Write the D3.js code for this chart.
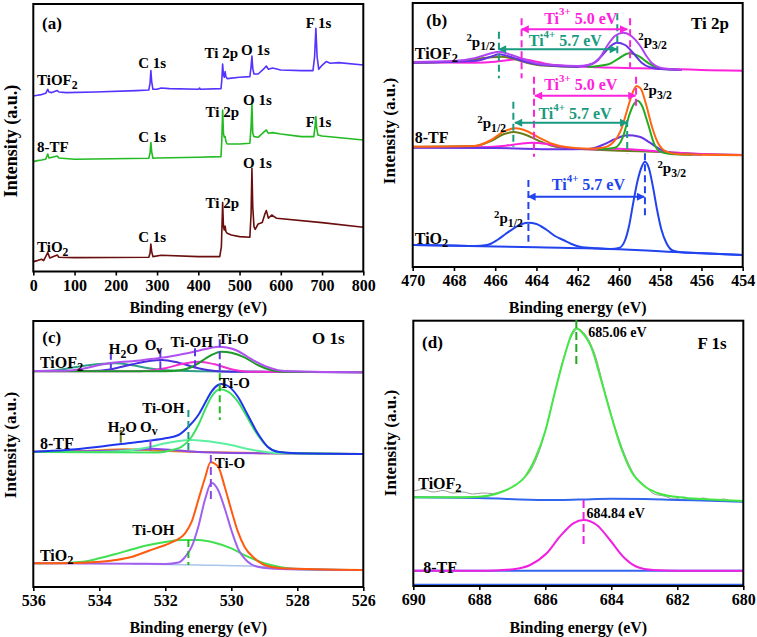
<!DOCTYPE html>
<html><head><meta charset="utf-8">
<script src="https://cdn.jsdelivr.net/npm/d3@7"></script>
<style>
body{margin:0;background:#fff}
svg{display:block}
text{font-family:"Liberation Serif","Times New Roman",serif;font-weight:bold}
</style>
</head><body><script>
// ---------------- DATA ----------------
const surveyTicks=[0,100,200,300,400,500,600,700,800];
const ti2pTicks=[470,468,466,464,462,460,458,456,454];
const o1sTicks=[536,534,532,530,528,526];
const f1sTicks=[690,688,686,684,682,680];

// (a) survey spectra [binding energy eV, intensity a.u.]
const surveyTiOF2=[[0,167.3],[10,168],[20,168.7],[30,170],[35,174],[38,171.3],[45,170.7],[58,172.7],[62,171.3],[80,170.7],[150,171.3],[250,172.7],[280,173.3],[283,180],[285,192.7],[287,181.7],[290,174],[300,174],[310,175.3],[330,174.7],[400,174],[403,175.3],[405,174],[455,174.7],[457,183.3],[459,199.3],[461,188.3],[463,186],[465,191.7],[467,186.7],[470,184.7],[500,186],[525,186.7],[528,196.7],[530,207.3],[532,195],[535,189.3],[545,189.3],[560,195],[565,197.3],[570,194],[580,195.3],[600,193.3],[650,192.7],[678,192.7],[682,206.7],[685,235],[688,206.7],[692,194],[700,198],[710,201.7],[720,200],[740,200.7],[800,198.3]];
const survey8TF=[[0,101.7],[10,102.7],[20,103.3],[30,104],[35,109.3],[38,105.3],[58,107.3],[62,105.3],[100,104],[280,105],[283,110],[285,120.7],[287,111.7],[290,105],[300,105.3],[400,106],[455,106.7],[457,123.3],[459,153.3],[461,130],[463,126],[465,126.7],[467,121.7],[470,119.3],[500,119.3],[525,120],[528,136.7],[530,160],[532,130],[535,126.7],[545,126],[560,131.7],[565,133.3],[570,130],[580,130.7],[600,129.3],[650,126.7],[680,126.7],[683,136.7],[685,146.7],[687,135],[690,128.3],[700,127.3],[800,123.3]];
const surveyTiO2=[[0,1.7],[10,2.7],[20,4],[25,2.7],[35,10.7],[40,5.3],[58,8.3],[62,6],[100,5.7],[280,6],[283,10],[285,19.3],[287,11.7],[290,6.7],[310,8],[400,6.7],[452,6.7],[456,16.7],[459,60.7],[461,36.7],[463,33.3],[465,37.3],[467,31.7],[470,30],[480,28.3],[500,26.7],[525,26],[528,50],[530,95],[532,56.7],[535,36.7],[538,34],[545,39.3],[555,40.7],[562,50],[565,52.7],[570,45],[578,48.3],[590,45],[700,40.7],[800,36]];

// (b) Ti 2p
const tiTiO2Env=[[470,22],[468,21.5],[467,21],[466.4,22],[465.9,27],[465.5,33],[465.1,38.7],[464.7,43],[464.4,44.3],[464,43],[463.5,37],[463.1,31],[462.7,27],[462.3,23],[461.9,20.3],[461.1,18.7],[460.4,18],[460,19],[459.7,27],[459.5,42],[459.3,65],[459.1,86],[458.9,100],[458.74,105.3],[458.55,99],[458.35,80],[458.15,57],[457.95,38],[457.7,24],[457.4,16.5],[457,14.7],[456,13.7],[454,12]];
const tiTiO2Bg=[[470,22],[464,19.7],[460,17.7],[458,15.7],[457,14.7],[454,12]];
const tiTF8Orange=[[470,120.3],[467,121],[466.2,127],[465.6,135.3],[465,138.7],[464.4,135.3],[463.8,128.7],[463.2,123],[462.5,119.7],[461.5,118.3],[460.8,119.3],[460.3,124.3],[459.9,137],[459.6,157],[459.35,173.7],[459.15,181],[458.95,178.7],[458.7,163.7],[458.4,140.3],[458.1,123.7],[457.7,115.3],[457.2,113],[456,112.3],[454,111.7]];
const tiTF8Green=[[461,117.7],[460.2,119.3],[459.8,130.3],[459.5,152],[459.3,162],[459.1,166.3],[458.9,162],[458.6,143.7],[458.3,123.7],[458,115.3],[457.5,113],[456.5,112.3]];
const tiTF8Violet=[[470,119.3],[466,119],[463,117.7],[461.5,118],[460.8,122],[460.2,127.7],[459.6,131.7],[459,130.3],[458.5,124.3],[458,117.7],[457.5,114.3],[457,113],[456,112.3]];
const tiTF8Olive=[[470,120.3],[467,121],[466.2,126],[465.6,132.7],[465.1,135],[464.5,132],[463.9,126.3],[463.2,121],[462.5,118.7],[461.5,117.7],[460,116.3],[458,115],[456,113],[454,112]];
const tiTF8Magenta=[[470,119.7],[467,119.7],[465.5,121.3],[464.8,123.3],[464.2,124.3],[463.5,123],[462.8,120.3],[462,118.3],[461,117.7],[460,118.3],[458,115.3],[457.5,114.7],[456,113],[454,112]];
const tiOF2Env=[[470,205],[468,206],[467,208.7],[466.2,213.7],[465.8,215.3],[465.2,212],[464.5,207],[464,203.7],[463,201.7],[462,201],[461.5,202],[461,207],[460.6,220.3],[460.2,231],[459.8,234.3],[459.4,231],[459,222],[458.7,212],[458.4,203.7],[458,199.3],[457.5,197.7],[457,197]];
const tiOF2Violet=[[470,204.3],[467,206],[466.2,210.3],[465.8,212.7],[465.2,209.7],[464.5,205],[463.5,201.7],[462,200.3],[461.3,203],[460.8,212],[460.4,221],[460.1,224.3],[459.7,222],[459.3,213.7],[458.9,204.3],[458.5,199.7],[458,198],[457,197]];
const tiOF2Green=[[461.5,200],[460.5,202.7],[460,208.7],[459.5,213.7],[459,210.3],[458.6,204.3],[458.2,199.7],[457.8,198],[457,197]];
const tiOF2Olive=[[470,204.3],[467.5,206.3],[466.8,208.3],[466.2,209.7],[465.7,210.3],[465.2,208.7],[464.6,205],[464,202.3],[463,200.7],[462,200]];
const tiOF2Magenta=[[470,204.7],[467,204.3],[466,205.3],[465.3,207],[464.8,208],[464.2,206.3],[463.5,203],[462.5,201],[461,199.7],[459,198.7],[457,197.7],[456,197],[454,196.3]];

// (c) O 1s
const oOF2Env=[[536,216],[535,216.3],[534.5,218.3],[534,222],[533.6,224.3],[533,225.7],[532.5,227.7],[532,229.7],[531.5,232.7],[531,236.3],[530.6,239.3],[530.4,240.3],[530.1,239.3],[529.8,236],[529.5,230],[529.2,224.3],[528.8,218.7],[528.4,216],[527,215],[526,214.7]];
const oOF2TiO=[[536,215.7],[532,215.7],[531.5,217],[531.2,220],[531,223.7],[530.8,228],[530.6,232],[530.3,235.3],[530,234.3],[529.6,229.7],[529.2,222],[528.8,217],[528.4,215.3],[526,214.7]];
const oOF2TiOH=[[536,215.7],[533,215.7],[532.5,216.3],[532,218.7],[531.5,223],[531,225.3],[530.5,222.7],[530,217.7],[529.5,215.3],[526,214.7]];
const oOF2Ov=[[536,216],[534.5,216],[534,216.3],[533.5,218.7],[533,222.7],[532.5,226],[532.1,227],[531.6,224.3],[531,218.7],[530.5,216],[530,215.3],[526,214.7]];
const oOF2H2O=[[536,216],[535.5,216.3],[535,218.3],[534.5,221],[534,223],[533.5,223.7],[533,221.7],[532.5,218.7],[532,216.7],[531,215.7],[529,215.2]];
const oTF8Env=[[536,135.3],[535,137],[534,140.3],[533,144.3],[532.5,146.3],[532,148.7],[531.6,152],[531.3,160.3],[531,172],[530.8,183.7],[530.6,195.3],[530.4,202],[530.3,203],[530.1,201],[529.8,190.3],[529.5,172],[529.2,153.7],[528.9,140.3],[528.6,135.3],[528,133.7],[526,133]];
const oTF8TiO=[[536,135],[532.2,134.5],[531.8,137],[531.5,140.3],[531.2,150.3],[531,162],[530.8,177],[530.6,190.3],[530.34,197.7],[530.1,195.3],[529.8,185.3],[529.5,168.7],[529.2,152],[528.9,140.3],[528.6,135.3],[528,133.7],[526,133]];
const oTF8TiOH=[[536,135],[534,135],[533,137],[532.5,139.7],[532,143.7],[531.6,146],[531.2,147],[530.6,145.3],[530,142],[529.5,138],[529,135.3],[528.5,133.7],[526,133]];
const oTF8Ov=[[536,135.3],[534,136],[533,137],[532.4,138.3],[531.8,137],[531,135],[530,134],[526,133]];
const oTF8H2O=[[536,135.3],[534.5,136],[533.2,137.7],[532.2,136.3],[531,135],[529,133.8],[526,133]];
const oTiO2Env=[[536,23.7],[534.5,24.3],[533.5,27],[533,30.3],[532.5,36.3],[532,42],[531.7,46.3],[531.4,53.7],[531.2,65.3],[531,87],[530.8,108.7],[530.63,124.7],[530.4,120.3],[530.2,100.3],[530,77],[529.8,55.3],[529.6,40.3],[529.3,28.7],[529,22],[528.5,18.7],[526,17]];
const oTiO2TiO=[[536,23.7],[533,23.3],[532,23],[531.6,24.5],[531.4,30],[531.2,40.3],[531,60.3],[530.8,87],[530.6,104.3],[530.4,97],[530.2,78.7],[530,57],[529.8,38.7],[529.5,25.3],[529.2,20.3],[528.5,18],[526,17]];
const oTiO2TiOH=[[536,23.7],[535.5,23.7],[534.5,25.3],[534,28.7],[533.5,33],[533,37.7],[532.5,42],[532,45],[531.5,47],[531,47],[530.5,44.3],[530,38.7],[529.5,30.3],[529,23.7],[528.5,19.7],[528,17.7],[526,17]];
const oTiO2Bg=[[533,23],[531,22],[529,20.3],[528,18.5],[526,17]];

// (d) F 1s
const fOF2Fit=[[690,88.7],[689,88.7],[688,89.3],[687.5,92],[687,99],[686.6,110],[686.3,128],[686,155],[685.7,195],[685.4,232],[685.2,252],[685.06,257.7],[684.9,254],[684.6,238],[684.3,205],[684,170],[683.7,138],[683.4,115],[683,100],[682.6,93],[682,89],[681,86.5],[680,85]];
const fOF2Raw=[[690,95],[689.7,96.5],[689.4,94],[689.1,95.5],[688.8,93],[688.5,94],[688.2,92],[687.9,93],[687.6,92.5],[687.3,95],[687,99],[686.7,106],[686.4,118],[686.1,143],[685.8,182],[685.5,222],[685.2,250],[685,257],[684.8,252],[684.5,232],[684.2,195],[683.9,160],[683.6,132],[683.3,111],[683,101],[682.7,92],[682.4,90],[682.1,87],[681.8,89],[681.5,86],[681.2,88],[680.9,85],[680.6,87],[680.3,84.5],[680,85]];
const fOF2Bg=[[690,88.7],[688,88],[686,86],[685,86.5],[684,87.3],[683,87],[682,86],[681,85.3],[680,84.3]];
const fTF8Fit=[[690,15.3],[688,15.3],[687.4,15.8],[686.97,16.7],[686.46,21],[685.96,32.7],[685.56,49.3],[685.15,62.7],[684.84,66],[684.44,61],[684.04,46],[683.64,29.3],[683.23,19.3],[682.73,16],[682,15.3],[680,15.3]];
const fTF8Bg=[[690,15.3],[680,15.3]];
const fTiO2Bg=[[690,1.3],[680,1.3]];

// ---------------- DRAWING ----------------
const FONT='"Liberation Serif","Times New Roman",serif';
const svg=d3.select("body").append("svg").attr("width",757).attr("height",637);
const defs=svg.append("defs");

const layout={
  a:{l:33.3,r:363.3,t:4,b:271.5},
  b:{l:412.7,r:742.7,t:3,b:267},
  c:{l:33.3,r:363.3,t:321,b:587},
  d:{l:413.3,r:743.3,t:320.7,b:586}
};

function panel(key,xd,yd,ticks){
  const L=layout[key];
  const x=d3.scaleLinear().domain(xd).range([L.l,L.r]);
  const y=d3.scaleLinear().domain(yd).range([L.b,L.t]);
  defs.append("clipPath").attr("id","clip-"+key).append("rect")
    .attr("x",L.l).attr("y",L.t).attr("width",L.r-L.l).attr("height",L.b-L.t);
  const g=svg.append("g");
  const plot=g.append("g").attr("clip-path",`url(#clip-${key})`);
  const ax=g.append("g").attr("transform",`translate(0,${L.b})`)
    .call(d3.axisBottom(x).tickValues(ticks).tickSize(4).tickPadding(4).tickFormat(d3.format("d")));
  ax.select(".domain").remove();
  ax.selectAll(".tick line").attr("stroke","#000").attr("stroke-width",1.6);
  ax.selectAll(".tick text").attr("font-size",16).attr("font-family",FONT).attr("font-weight","bold").attr("fill","#000");
  return {key,x,y,g,plot,L};
}
function frame(P){
  const L=P.L;
  P.g.append("rect").attr("x",L.l).attr("y",L.t).attr("width",L.r-L.l).attr("height",L.b-L.t)
    .attr("fill","none").attr("stroke","#000").attr("stroke-width",2);
}
function curve(P,data,color,w=2,interp=d3.curveMonotoneX){
  P.plot.append("path").datum(data)
    .attr("d",d3.line().x(d=>P.x(d[0])).y(d=>P.y(d[1])).curve(interp))
    .attr("fill","none").attr("stroke",color).attr("stroke-width",w)
    .attr("stroke-linejoin","round").attr("stroke-linecap","round");
}
function vdash(P,e,i0,i1,color,dash="7,4",w=2){
  P.g.append("line").attr("x1",P.x(e)).attr("x2",P.x(e)).attr("y1",P.y(i0)).attr("y2",P.y(i1))
    .attr("stroke",color).attr("stroke-width",w).attr("stroke-dasharray",dash);
}
const markerIds={};
function marker(color){
  if(markerIds[color]) return markerIds[color];
  const id="ah"+Object.keys(markerIds).length;
  defs.append("marker").attr("id",id).attr("viewBox","0 0 10 10").attr("refX",9).attr("refY",5)
    .attr("markerWidth",10).attr("markerHeight",8).attr("markerUnits","userSpaceOnUse")
    .attr("orient","auto-start-reverse")
    .append("path").attr("d","M0,0L10,5L0,10z").attr("fill",color);
  markerIds[color]=id; return id;
}
function arrow(P,e0,e1,i,color){
  const id=marker(color);
  P.g.append("line").attr("x1",P.x(e0)).attr("x2",P.x(e1)).attr("y1",P.y(i)).attr("y2",P.y(i))
    .attr("stroke",color).attr("stroke-width",2)
    .attr("marker-start",`url(#${id})`).attr("marker-end",`url(#${id})`);
}
// rich text: parts are strings or [string, mode]
function rich(g,px,py,parts,{size=16,color="#000",anchor="start"}={}){
  const t=g.append("text").attr("x",px).attr("y",py).attr("fill",color).attr("font-size",size)
    .attr("text-anchor",anchor).attr("dominant-baseline","central");
  let cur=0;
  parts.forEach(p=>{
    const [s,m]=typeof p==="string"?[p,"n"]:p;
    let off=0,fs=size;
    if(m==="sub"){off=size*0.3;fs=size*0.78;}
    if(m==="sup"){off=-size*0.38;fs=size*0.68;}
    if(m==="pre"){off=-size*0.3;fs=size*0.72;}
    t.append("tspan").attr("dy",off-cur).attr("font-size",fs).text(s);
    cur=off;
  });
  return t;
}
function label(P,e,i,parts,opt){return rich(P.g,P.x(e),P.y(i),parts,opt);}

const tiof2=["TiOF",["2","sub"]], tio2=["TiO",["2","sub"]], tf8=["8-TF"];
const p12=[["2","pre"],["p","n"],["1/2","sub"]], p32=[["2","pre"],["p","n"],["3/2","sub"]];
const h2o=["H",["2","sub"],["O","n"]], ov=["O",["v","sub"]];

// ---- (a) ----
const A=panel("a",[0,800],[-8.2,259.3],surveyTicks);
curve(A,surveyTiOF2,"#5533ff",1.6,d3.curveLinear);
curve(A,survey8TF,"#22bb22",1.6,d3.curveLinear);
curve(A,surveyTiO2,"#6a0e0e",1.6,d3.curveLinear);
frame(A);
[["F 1s",691.4,240.3],["C 1s",288.3,200.3],["Ti 2p",455.9,210.3],["O 1s",538.4,213.3],
 ["O 1s",543.3,163.3],["Ti 2p",458.3,151.3],["C 1s",288.3,126.3],["F 1s",691.4,141.3],
 ["O 1s",543.3,100.3],["Ti 2p",458.3,60.3],["C 1s",288.3,26.3]]
 .forEach(d=>label(A,d[1],d[2],[d[0]],{size:15,anchor:"middle"}));
label(A,9,183.3,tiof2,{size:15});
label(A,9,116.3,tf8,{size:15});
label(A,9,16.3,tio2,{size:15});
rich(A.g,52,23,["(a)"],{size:17,anchor:"middle"});

// ---- (b) ----
const B=panel("b",[470,454],[0,264],ti2pTicks);
const MAG="#ff22dd", TEAL="#1a9a80";
curve(B,tiTiO2Bg,"#2244ee");
curve(B,tiTiO2Env,"#2244ee");
curve(B,tiTF8Olive,"#6b7d1a");
curve(B,tiTF8Magenta,MAG);
curve(B,tiTF8Violet,"#6633e6");
curve(B,tiTF8Green,"#22aa22");
curve(B,tiTF8Orange,"#ff6611");
curve(B,tiOF2Magenta,MAG);
curve(B,tiOF2Olive,"#6b7d1a");
curve(B,tiOF2Green,"#22aa22");
curve(B,tiOF2Violet,"#6633e6");
curve(B,tiOF2Env,"#b044f0");
frame(B);
// TiOF2 annotations
vdash(B,464.72,248.7,188.7,MAG); vdash(B,459.46,248.7,200,MAG);
vdash(B,465.82,235.3,188.7,TEAL); vdash(B,460.08,253.7,213.7,TEAL);
arrow(B,464.72,459.6,237.7,MAG);
arrow(B,465.82,460.1,217.7,TEAL);
label(B,461.85,249.5,["Ti",["3+","sup"],[" 5.0 eV","n"]],{size:16,color:MAG,anchor:"middle"});
label(B,462.6,226.8,["Ti",["4+","sup"],[" 5.7 eV","n"]],{size:16,color:TEAL,anchor:"middle"});
label(B,466.7,225.3,p12,{size:15,anchor:"middle"});
label(B,458.37,227,p32,{size:15,anchor:"middle"});
label(B,469.9,213.7,tiof2,{size:16});
// 8-TF annotations
vdash(B,464.12,190.3,110.3,MAG); vdash(B,459.17,190.3,160.3,MAG);
vdash(B,465.12,165.3,120.3,TEAL); vdash(B,459.6,147,113.7,TEAL);
arrow(B,464.07,459.2,171.3,MAG);
arrow(B,465.04,459.6,144.3,TEAL);
label(B,461.85,183,["Ti",["3+","sup"],[" 5.0 eV","n"]],{size:16,color:MAG,anchor:"middle"});
label(B,462.13,154,["Ti",["4+","sup"],[" 5.7 eV","n"]],{size:16,color:TEAL,anchor:"middle"});
label(B,466.17,143.7,p12,{size:15,anchor:"middle"});
label(B,458.13,177,p32,{size:15,anchor:"middle"});
label(B,469.9,130.3,tf8,{size:16});
// TiO2 annotations
vdash(B,464.39,87,25.3,"#2244ee"); vdash(B,458.74,113.7,48.7,"#2244ee");
arrow(B,464.39,458.78,70.3,"#2244ee");
label(B,461.48,83,["Ti",["4+","sup"],[" 5.7 eV","n"]],{size:16,color:"#2244ee",anchor:"middle"});
label(B,465.36,48.7,p12,{size:15,anchor:"middle"});
label(B,457.44,98.7,p32,{size:15,anchor:"middle"});
label(B,469.9,28.7,tio2,{size:16});
rich(B.g,436.7,20,["(b)"],{size:17,anchor:"middle"});
rich(B.g,710,23.3,["Ti 2p"],{size:17,anchor:"middle"});

// ---- (c) ----
const C=panel("c",[536,526],[0,266],o1sTicks);
curve(C,oTiO2Bg,"#a8c4ec",1.5);
curve(C,oTiO2TiOH,"#40e050");
curve(C,oTiO2TiO,"#a060f0");
curve(C,oTiO2Env,"#ff5a10");
curve(C,oTF8H2O,"#e8801a");
curve(C,oTF8Ov,"#8a4ae8");
curve(C,oTF8TiOH,"#5cf0a0");
curve(C,oTF8TiO,"#3ee060");
curve(C,oTF8Env,"#1f35ee");
curve(C,oOF2H2O,"#2f9e86");
curve(C,oOF2Ov,"#4a2ee0");
curve(C,oOF2TiOH,"#f030d0");
curve(C,oOF2TiO,"#1e9a2a");
curve(C,oOF2Env,"#b050f0");
frame(C);
const BV="#5a3ae0";
vdash(C,533.65,235.3,217,BV,"8,4"); vdash(C,532.15,237.7,217,BV,"8,4");
vdash(C,531.1,238.7,217,BV,"8,4"); vdash(C,530.35,247.7,217,BV,"8,4");
label(C,533.27,237.7,h2o,{size:15,anchor:"middle"});
label(C,532.36,242,ov,{size:15,anchor:"middle"});
label(C,531.2,245.3,["Ti-OH"],{size:15,anchor:"middle"});
label(C,529.94,247.7,["Ti-O"],{size:15,anchor:"middle"});
label(C,535.8,225.3,tiof2,{size:16});
vdash(C,533.35,157,144.3,"#6b7d1a","14,0");
vdash(C,532.45,147,136.3,"#8a4ae8","14,0");
vdash(C,531.3,177,136.3,"#1a9a80","7,4");
vdash(C,530.35,213.7,167,"#22bb22","7,4");
label(C,529.9,203.7,["Ti-O"],{size:15,anchor:"middle"});
label(C,532.06,178.7,["Ti-OH"],{size:15,anchor:"middle"});
label(C,533.3,160.3,h2o,{size:15,anchor:"middle"});
label(C,532.5,160.3,ov,{size:15,anchor:"middle"});
label(C,535.8,143.7,tf8,{size:16});
vdash(C,530.62,132,85.3,"#8a4ae8","8,4");
vdash(C,531.3,47,22,"#22bb22","7,4");
label(C,530.04,123.7,["Ti-O"],{size:15,anchor:"middle"});
label(C,532.36,57,["Ti-OH"],{size:15,anchor:"middle"});
label(C,535.8,32,tio2,{size:16});
rich(C.g,51.7,337.3,["(c)"],{size:17,anchor:"middle"});
rich(C.g,328.3,338.3,["O 1s"],{size:17,anchor:"middle"});

// ---- (d) ----
const D=panel("d",[690,680],[0,265.3],f1sTicks);
curve(D,fTiO2Bg,"#3366ee");
curve(D,fOF2Raw,"#9a9a9a",1);
curve(D,fOF2Bg,"#3366ee");
curve(D,fOF2Fit,"#44e844");
curve(D,fTF8Bg,"#3366ee");
curve(D,fTF8Fit,"#f020e0");
frame(D);
vdash(D,685.06,266,221,"#22aa22","8,4");
vdash(D,684.84,86,39.3,"#f020e0","8,4");
label(D,684.7,254.3,["685.06 eV"],{size:14});
label(D,684.75,72.7,["684.84 eV"],{size:14});
label(D,689.85,102.7,tiof2,{size:16});
label(D,689.7,19.3,tf8,{size:16});
rich(D.g,432.5,341.7,["(d)"],{size:17,anchor:"middle"});
rich(D.g,712,343.3,["F 1s"],{size:17,anchor:"middle"});

// ---- axis titles ----
function xTitle(P,py){rich(svg,(P.L.l+P.L.r)/2,py,["Binding energy (eV)"],{size:16,anchor:"middle"});}
xTitle(A,306.5); xTitle(B,307); xTitle(C,627); xTitle(D,627);
function yTitle(px,py,size){
  svg.append("text").attr("transform",`translate(${px},${py}) rotate(-90)`)
    .attr("text-anchor","middle").attr("dominant-baseline","central")
    .attr("font-size",size).text("Intensity (a.u.)");
}
yTitle(11,141,18); yTitle(389,131,17); yTitle(10,445,17); yTitle(390,443,17);
</script></body></html>
